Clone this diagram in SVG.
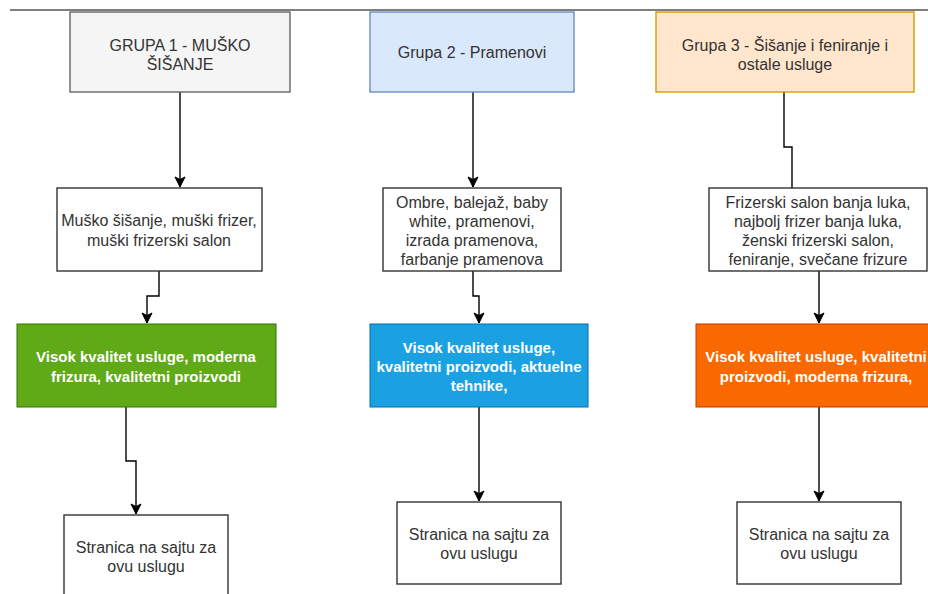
<svg xmlns="http://www.w3.org/2000/svg" width="928" height="594" viewBox="0 0 928 594">
<defs>
<style>
.t{font-family:"Liberation Sans",Arial,sans-serif;font-size:16px;fill:#333;text-anchor:middle}
.w{font-family:"Liberation Sans",Arial,sans-serif;font-size:15px;font-weight:bold;fill:#fff;text-anchor:middle}
.plain{fill:#fff;stroke:#333;stroke-width:1.4}
.c{fill:none;stroke:#000;stroke-width:1.4}
</style>
<marker id="arr" markerUnits="userSpaceOnUse" markerWidth="12" markerHeight="12" viewBox="0 0 12 12" refX="11" refY="6" orient="auto">
<path d="M1,1 L11,6 L1,11 L3.5,6 z" fill="#000" stroke="#000" stroke-width="1"/>
</marker>
</defs>
<rect width="928" height="594" fill="#fff"/>
<line x1="10" y1="10" x2="928" y2="10" stroke="#000" stroke-width="1.2"/>

<g id="connectors">
<path class="c" d="M180,92 L180,187" marker-end="url(#arr)"/>
<path class="c" d="M473,92 L473,187" marker-end="url(#arr)"/>
<path class="c" d="M784,92 L784,147 L792,147 L792,188"/>
<path class="c" d="M159,271 L159,296 L147,296 L147,323" marker-end="url(#arr)"/>
<path class="c" d="M473,271 L473,296 L479,296 L479,323" marker-end="url(#arr)"/>
<path class="c" d="M819,271 L819,323" marker-end="url(#arr)"/>
<path class="c" d="M126,407 L126,461 L136,461 L136,514" marker-end="url(#arr)"/>
<path class="c" d="M479,407 L479,501" marker-end="url(#arr)"/>
<path class="c" d="M819,407 L819,501" marker-end="url(#arr)"/>
</g>

<g id="grupa1">
<rect x="70" y="12" width="220" height="80" fill="#f5f5f5" stroke="#666" stroke-width="1.4"/>
<text class="t" x="180" y="51">GRUPA 1 - MUŠKO</text>
<text class="t" x="180" y="70">ŠIŠANJE</text>
</g>
<g id="grupa2">
<rect x="370" y="12" width="204" height="80" fill="#dae8fc" stroke="#6c8ebf" stroke-width="1.4"/>
<text class="t" x="472" y="58">Grupa 2 - Pramenovi</text>
</g>
<g id="grupa3">
<rect x="656" y="12" width="258" height="80" fill="#ffe6cc" stroke="#d79b00" stroke-width="1.4"/>
<text class="t" x="785" y="51">Grupa 3 - Šišanje i feniranje i</text>
<text class="t" x="785" y="70">ostale usluge</text>
</g>

<g id="kw1">
<rect class="plain" x="57" y="188" width="205" height="83"/>
<text class="t" x="159" y="226">Muško šišanje, muški frizer,</text>
<text class="t" x="159" y="246">muški frizerski salon</text>
</g>
<g id="kw2">
<rect class="plain" x="383" y="188" width="178" height="83"/>
<text class="t" x="472" y="208">Ombre, balejaž, baby</text>
<text class="t" x="472" y="227">white, pramenovi,</text>
<text class="t" x="472" y="246">izrada pramenova,</text>
<text class="t" x="472" y="265">farbanje pramenova</text>
</g>
<g id="kw3">
<rect class="plain" x="709" y="188" width="218" height="83"/>
<text class="t" x="818" y="208">Frizerski salon banja luka,</text>
<text class="t" x="818" y="227">najbolj frizer banja luka,</text>
<text class="t" x="818" y="246">ženski frizerski salon,</text>
<text class="t" x="818" y="265">feniranje, svečane frizure</text>
</g>

<g id="q1">
<rect x="17" y="324" width="259" height="83" fill="#60a917" stroke="#2d7600" stroke-width="1"/>
<text class="w" x="146" y="362">Visok kvalitet usluge, moderna</text>
<text class="w" x="146" y="382">frizura, kvalitetni proizvodi</text>
</g>
<g id="q2">
<rect x="370" y="324" width="218" height="83" fill="#1ba1e2" stroke="#006eaf" stroke-width="1"/>
<text class="w" x="479" y="353">Visok kvalitet usluge,</text>
<text class="w" x="479" y="372">kvalitetni proizvodi, aktuelne</text>
<text class="w" x="479" y="391">tehnike,</text>
</g>
<g id="q3">
<rect x="696" y="324" width="240" height="83" fill="#fa6800" stroke="#c73500" stroke-width="1"/>
<text class="w" x="816" y="362">Visok kvalitet usluge, kvalitetni</text>
<text class="w" x="816" y="382">proizvodi, moderna frizura,</text>
</g>

<g id="page1">
<rect class="plain" x="64" y="515" width="164" height="84"/>
<text class="t" x="146" y="553">Stranica na sajtu za</text>
<text class="t" x="146" y="572">ovu uslugu</text>
</g>
<g id="page2">
<rect class="plain" x="397" y="502" width="164" height="82"/>
<text class="t" x="479" y="540">Stranica na sajtu za</text>
<text class="t" x="479" y="559">ovu uslugu</text>
</g>
<g id="page3">
<rect class="plain" x="737" y="502" width="164" height="82"/>
<text class="t" x="819" y="540">Stranica na sajtu za</text>
<text class="t" x="819" y="559">ovu uslugu</text>
</g>
</svg>
